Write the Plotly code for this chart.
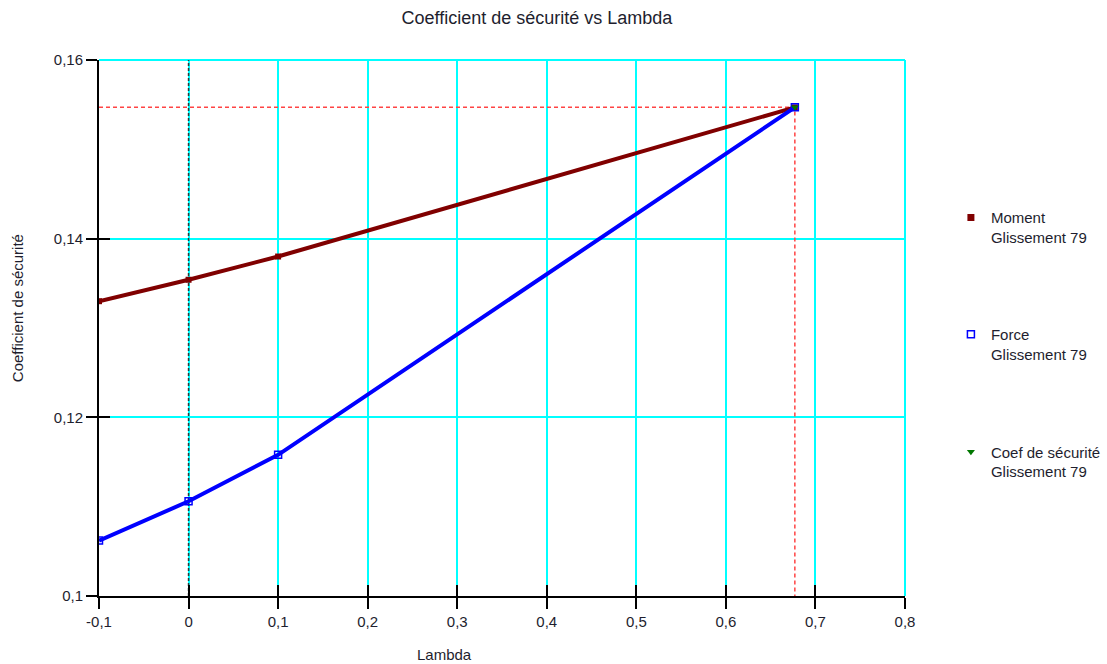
import plotly.graph_objects as go

# Données
lambda_vals = [-0.1, 0.0, 0.1, 0.677]
moment_vals = [0.1330, 0.1354, 0.1380, 0.1547]
force_vals = [0.1062, 0.1106, 0.1158, 0.1547]
coef_lambda = [0.677]
coef_vals = [0.1547]

x_ticks = [-0.1, 0, 0.1, 0.2, 0.3, 0.4, 0.5, 0.6, 0.7, 0.8]
x_labels = ["-0,1", "0", "0,1", "0,2", "0,3", "0,4", "0,5", "0,6", "0,7", "0,8"]
y_ticks = [0.1, 0.12, 0.14, 0.16]
y_labels = ["0,1", "0,12", "0,14", "0,16"]

x_range = [-0.1, 0.8]
y_range = [0.1, 0.16]

FONT = "Liberation Sans, Arial, sans-serif"
TXT = "#1e1e2e"
GRID = "#00ffff"

fig = go.Figure()

# ligne verticale à lambda = 0
fig.add_trace(go.Scatter(
    x=[0, 0], y=y_range, mode="lines",
    line=dict(color="#333333", width=1.5, dash="3px,2px"),
    showlegend=False, hoverinfo="skip"
))

# repère du point de convergence
fig.add_trace(go.Scatter(
    x=[x_range[0], coef_lambda[0], coef_lambda[0]],
    y=[coef_vals[0], coef_vals[0], y_range[0]],
    mode="lines",
    line=dict(color="#ff4444", width=1.5, dash="4px,3px"),
    showlegend=False, hoverinfo="skip"
))

fig.add_trace(go.Scatter(
    x=lambda_vals, y=moment_vals, mode="lines+markers",
    line=dict(color="#800000", width=4),
    marker=dict(symbol="square", size=6, color="#800000"),
    showlegend=False
))

fig.add_trace(go.Scatter(
    x=lambda_vals, y=force_vals, mode="lines+markers",
    line=dict(color="#0000ff", width=4),
    marker=dict(symbol="square-open", size=7, color="#0000ff",
                line=dict(width=1.5)),
    showlegend=False
))

fig.add_trace(go.Scatter(
    x=coef_lambda, y=coef_vals, mode="markers",
    marker=dict(symbol="triangle-down", size=7, color="#007700"),
    showlegend=False
))

# légende (marqueurs seuls)
fig.add_trace(go.Scatter(
    x=[None], y=[None], mode="markers", name="Moment<br>Glissement 79",
    marker=dict(symbol="square", size=7, color="#800000"), legend="legend"
))
fig.add_trace(go.Scatter(
    x=[None], y=[None], mode="markers", name="Force<br>Glissement 79",
    marker=dict(symbol="square-open", size=7, color="#0000ff",
                line=dict(width=1.5)), legend="legend2"
))
fig.add_trace(go.Scatter(
    x=[None], y=[None], mode="markers", name="Coef de sécurité<br>Glissement 79",
    marker=dict(symbol="triangle-down", size=7, color="#007700"), legend="legend3"
))

leg = dict(x=0.859, xref="container", yref="container",
           xanchor="left", yanchor="top", valign="top",
           font=dict(family=FONT, size=15, color=TXT),
           bgcolor="rgba(0,0,0,0)", itemwidth=30)

axis_common = dict(
    showgrid=True, gridcolor=GRID, gridwidth=2,
    zeroline=False, showline=True, linecolor="black", linewidth=2,
    ticks="outside", ticklen=11, tickwidth=2, tickcolor="black",
    tickfont=dict(family=FONT, size=15, color=TXT),
)

fig.update_layout(
    width=1107, height=664,
    paper_bgcolor="white", plot_bgcolor="white",
    margin=dict(l=99, r=202, t=60, b=68),
    title=dict(text="Coefficient de sécurité vs Lambda", x=0.485, xref="container",
               xanchor="center", y=0.973, yref="container", yanchor="middle",
               font=dict(family=FONT, size=18, color=TXT)),
    xaxis=dict(range=x_range, tickvals=x_ticks, ticktext=x_labels, **axis_common),
    yaxis=dict(range=y_range, tickvals=y_ticks, ticktext=y_labels, **axis_common),
    xaxis2=dict(overlaying="x", range=x_range, tickvals=x_ticks,
                showticklabels=False, showgrid=False, zeroline=False,
                ticks="inside", ticklen=11, tickwidth=2, tickcolor="black",
                side="bottom", showline=False),
    yaxis2=dict(overlaying="y", range=y_range, tickvals=y_ticks,
                showticklabels=False, showgrid=False, zeroline=False,
                ticks="inside", ticklen=11, tickwidth=2, tickcolor="black",
                side="left", showline=False),
    legend=dict(y=0.697, **leg),
    legend2=dict(y=0.521, **leg),
    legend3=dict(y=0.344, **leg),
    # cadre cyan en haut et à droite (grille aux bords)
    shapes=[
        dict(type="line", xref="paper", yref="paper", x0=0, x1=1, y0=1, y1=1,
             line=dict(color=GRID, width=2), layer="below"),
        dict(type="line", xref="paper", yref="paper", x0=1, x1=1, y0=0, y1=1,
             line=dict(color=GRID, width=2), layer="below"),
    ],
    annotations=[
        dict(text="Lambda", xref="paper", yref="paper", x=0.429, y=-0.110,
             xanchor="center", yanchor="middle", showarrow=False,
             font=dict(family=FONT, size=15, color=TXT)),
        dict(text="Coefficient de sécurité", xref="paper", yref="paper",
             x=-0.1017, y=0.537, textangle=-90, xanchor="center", yanchor="middle",
             showarrow=False, font=dict(family=FONT, size=15, color=TXT)),
    ],
)

# trace invisible pour activer les axes secondaires (ticks traversants)
fig.add_trace(go.Scatter(x=[None], y=[None], xaxis="x2", yaxis="y2",
                         showlegend=False, hoverinfo="skip"))

fig.write_html("out.html", config={"displayModeBar": False},
               post_script="document.body.style.margin='0';")
